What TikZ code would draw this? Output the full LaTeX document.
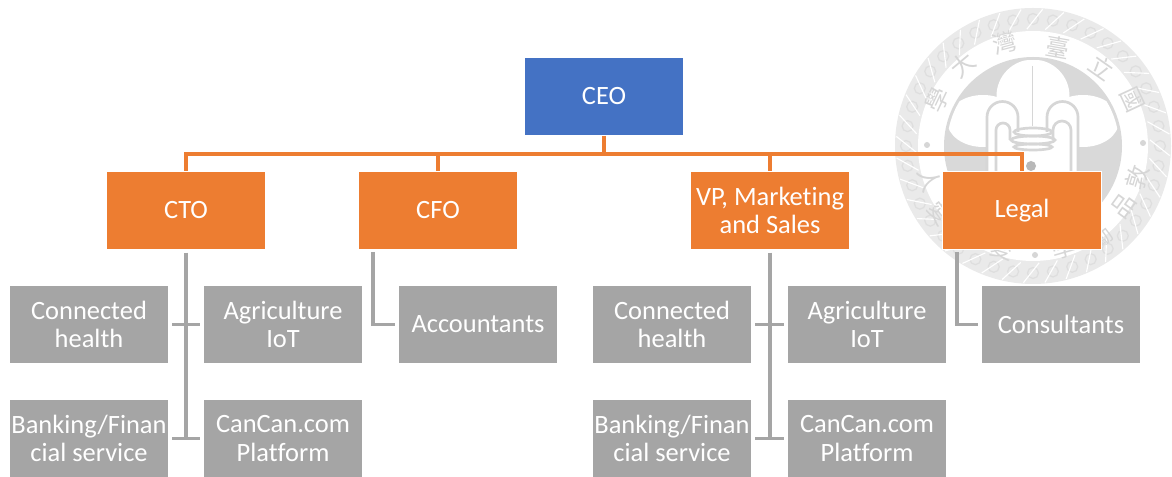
\documentclass[tikz,border=0pt]{standalone}
\usepackage{fontspec}
\setmainfont[Ligatures=NoCommon]{Carlito}
\newfontfamily\sealfont{Noto Sans CJK TC}
\usepackage{tikz}
\usetikzlibrary{positioning,calc}
\definecolor{ceoblue}{HTML}{4472C4}
\definecolor{mgrorange}{HTML}{ED7D31}
\definecolor{staffgray}{HTML}{A5A5A5}
\definecolor{sealgray}{HTML}{D9D9D9}
\definecolor{sealband}{HTML}{EAEAEA}
\definecolor{sealring}{HTML}{DEDEDE}
\definecolor{sealink}{HTML}{D6D6D6}
\tikzset{
  orgbox/.style={rectangle,draw=white,line width=0.5pt,text=white,minimum width=3.975cm,minimum height=1.95cm,inner sep=0pt,align=center,font=\fontsize{18.8}{20.5}\selectfont},
  sealchar/.style={text=sealink,inner sep=0pt,font=\sealfont\fontsize{17}{17}\selectfont},
  seallobe/.style={fill=white,draw=none},
  sealline/.style={draw=sealink,line width=1.9pt}
}
\begin{document}
\begin{tikzpicture}[x=0.025cm,y=-0.025cm]
   \useasboundingbox (0,0) rectangle (1172,477);
   % seal in the background
   \fill[sealband] (1033,146) circle (138);
   \foreach \a in {0,9,...,351} {
     \draw[sealring,line width=0.9pt] ($(1033,146)+(\a:127)$) circle (5.5);
     \draw[white,line width=0.8pt] ($(1033,146)+(\a-3:117)$) -- ($(1033,146)+(\a+4:137)$);
   }
   \fill[white] (1033,146) circle (115);
   \fill[sealgray] (1033,146) circle (89);
   \begin{scope}
    \clip (1033,146) circle (86);
    \fill[seallobe] (1033,96) circle (36.5);
    \fill[seallobe] (983,121) ellipse (36 and 26);
    \fill[seallobe] (1083,121) ellipse (36 and 26);
    \fill[seallobe] (987,118) rectangle (1079,240);
   \end{scope}
   \draw[draw=sealink,line width=0.5pt] (1032,66) -- (1032,126);
   \draw[sealline] (987,172) -- (987,117) arc (180:360:15.5) -- (1018,132);
   \draw[sealline] (996,172) -- (996,130) arc (180:360:7) -- (1010,140);
   \draw[sealline] (1078,172) -- (1078,117) arc (360:180:15.5) -- (1047,132);
   \draw[sealline] (1071,172) -- (1071,130) arc (360:180:9) -- (1053,140);
   \draw[sealline] (1033,132) ellipse (19 and 4);
   \draw[sealline] (1033,140) ellipse (22 and 4);
   \draw[sealline] (1033,147) ellipse (19 and 3);
   \fill[sealgray!85!black] (1031,166) circle (5);
   \node (s1) [sealchar,rotate=65] at (937,100) {學};
   \node (s2) [sealchar,rotate=40] at (963,65) {大};
   \node (s3) [sealchar,rotate=15] at (1005,43) {灣};
   \node (s4) [sealchar,rotate=-10] at (1058,47) {臺};
   \node (s5) [sealchar,rotate=-35] at (1102,67) {立};
   \node (s6) [sealchar,rotate=-65] at (1132,100) {國};
   \node (s7) [sealchar,rotate=73] at (1137,177) {敦};
   \node (s8) [sealchar,rotate=54] at (1124,206) {品};
   \node (s9) [sealchar,rotate=39,font=\sealfont\fontsize{15}{15}\selectfont] at (1102,238) {勵};
   \node (s10) [sealchar,rotate=16] at (1063,248) {學};
   \node (s11) [sealchar,rotate=-17] at (1003,248) {愛};
   \node (s12) [sealchar,rotate=-54] at (941,213) {愛};
   \node (s13) [sealchar,rotate=-72] at (930,180) {人};
   \fill[sealink] (927,145) circle (3);
   \fill[sealink] (1143,143) circle (3);
   \fill[sealink] (1035,255) circle (3);
   % boxes
   \begin{scope}[every node/.style={orgbox}]
    \node (ceo) [fill=ceoblue] at (604,96.5) {CEO};
    \node (cto) [fill=mgrorange] at (186,210.5) {CTO};
    \node (cfo) [fill=mgrorange] at (438,210.5) {CFO};
    \node (vp) [fill=mgrorange] at (770,210.5) {VP, Marketing\\and Sales};
    \node (legal) [fill=mgrorange] at (1022,210.5) {Legal};
    \node (conn1) [fill=staffgray] at (89,324.5) {Connected\\health};
    \node (agri1) [fill=staffgray] at (283,324.5) {Agriculture\\IoT};
    \node (bank1) [fill=staffgray] at (89,438.5) {Banking/Finan\\cial service};
    \node (can1) [fill=staffgray] at (283,438.5) {CanCan.com\\Platform};
    \node (acct) [fill=staffgray] at (478,324.5) {Accountants};
    \node (conn2) [fill=staffgray] at (672,324.5) {Connected\\health};
    \node (agri2) [fill=staffgray] at (867,324.5) {Agriculture\\IoT};
    \node (bank2) [fill=staffgray] at (672,438.5) {Banking/Finan\\cial service};
    \node (can2) [fill=staffgray] at (867,438.5) {CanCan.com\\Platform};
    \node (cons) [fill=staffgray] at (1061,324.5) {Consultants};
   \end{scope}
   % reporting lines
   \coordinate (bus) at (604,154);
   \begin{scope}[draw=mgrorange,line width=2.4pt]
    \draw (ceo.south) -- (bus);
    \draw (bus) -| (cto.north);
    \draw (bus) -| (cfo.north);
    \draw (bus) -| (vp.north);
    \draw (bus) -| (legal.north);
   \end{scope}
   \coordinate (tee1) at (186,324.5);
   \coordinate (foot1) at (186,438.5);
   \coordinate (tee2) at (770,324.5);
   \coordinate (foot2) at (770,438.5);
   \coordinate (acctdrop) at (373,252);
   \coordinate (consdrop) at (957,252);
   \begin{scope}[draw=staffgray,line width=2.4pt]
    \draw[shorten <=2pt] (cto.south) -- (foot1);
    \draw[shorten >=2pt] (tee1) -- (conn1.east);
    \draw[shorten >=2pt] (tee1) -- (agri1.west);
    \draw[shorten >=2pt] (foot1) -- (bank1.east);
    \draw[shorten >=2pt] (foot1) -- (can1.west);
    \draw[shorten >=2pt] (acctdrop) |- (acct.west);
    \draw[shorten <=2pt] (vp.south) -- (foot2);
    \draw[shorten >=2pt] (tee2) -- (conn2.east);
    \draw[shorten >=2pt] (tee2) -- (agri2.west);
    \draw[shorten >=2pt] (foot2) -- (bank2.east);
    \draw[shorten >=2pt] (foot2) -- (can2.west);
    \draw[shorten >=2pt] (consdrop) |- (cons.west);
   \end{scope}
\end{tikzpicture}
\end{document}
